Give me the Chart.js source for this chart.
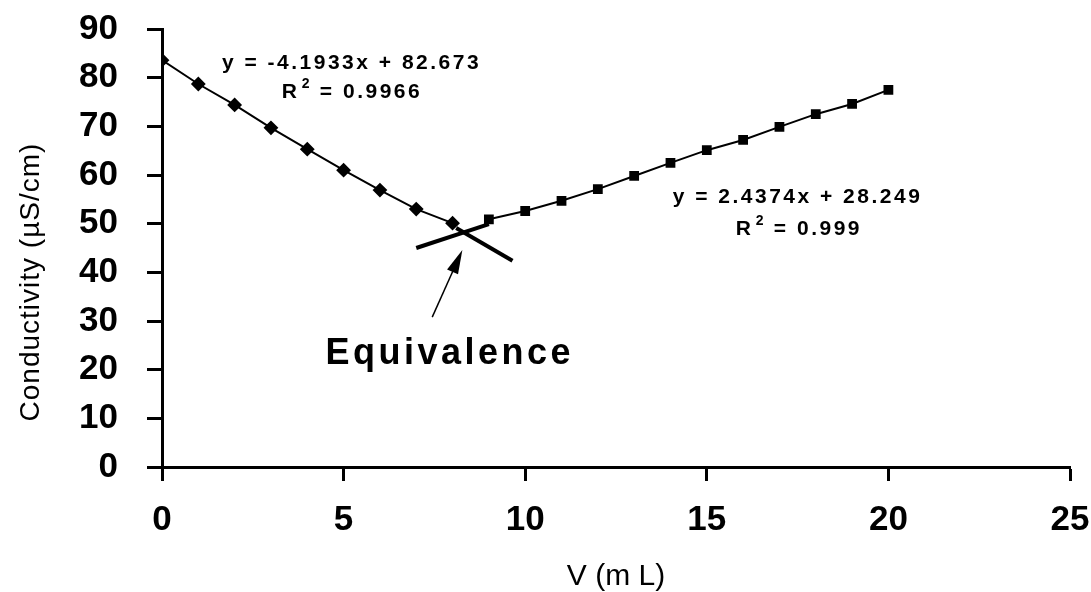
<!DOCTYPE html>
<html>
<head>
<meta charset="utf-8">
<script src="https://cdn.jsdelivr.net/npm/chart.js@4"></script>
<style>
  body { margin: 0; background: #fff; }
  #wrap { width: 1091px; height: 592px; }
</style>
</head>
<body>
<div id="wrap"><canvas id="chart"></canvas></div>
<script>
// Data
const volBefore = [0, 1, 2, 3, 4, 5, 6, 7, 8];
const condBefore = [83.6, 78.7, 74.4, 69.7, 65.3, 61.0, 56.9, 53.0, 50.1];
const volAfter = [9, 10, 11, 12, 13, 14, 15, 16, 17, 18, 19, 20];
const condAfter = [50.9, 52.6, 54.7, 57.1, 59.8, 62.5, 65.1, 67.2, 69.9, 72.5, 74.6, 77.5];

// Thick trendline pieces crossing at the equivalence point
const trendDownX = [8.1, 9.65];
const trendDownY = [49.1, 42.4];
const trendUpX = [7.0, 9.0];
const trendUpY = [45.0, 49.9];

const xTicks = [0, 5, 10, 15, 20, 25];
const yTicks = [0, 10, 20, 30, 40, 50, 60, 70, 80, 90];

const toPoints = (xs, ys) => xs.map((x, i) => ({ x, y: ys[i] }));

// Text labels and arrow, placed in data units
const labels = [
  { text: 'y = -4.1933x + 82.673', x: 1.65, y: 81.8 },
  { text: 'y = 2.4374x + 28.249', x: 14.06, y: 54.3 }
];
const rSquared = [
  { value: '= 0.9966', x: 3.3, y: 75.8 },
  { value: '= 0.999', x: 15.8, y: 47.7 }
];
const arrowFrom = { x: 7.44, y: 30.8 };
const arrowTo = { x: 8.27, y: 44.6 };
const equivLabel = { text: 'Equivalence', x: 4.5, y: 21.2 };
const yTitle = 'Conductivity (µS/cm)';

const annotations = {
  id: 'annotations',
  afterDatasetsDraw(chart) {
    const ctx = chart.ctx;
    const xs = chart.scales.x;
    const ys = chart.scales.y;
    const px = v => xs.getPixelForValue(v);
    const py = v => ys.getPixelForValue(v);
    ctx.save();
    ctx.fillStyle = '#000';
    ctx.strokeStyle = '#000';
    ctx.textBaseline = 'alphabetic';
    ctx.textAlign = 'left';

    labels.forEach(l => {
      ctx.font = 'bold 21px Arial, "Liberation Sans", sans-serif';
      ctx.letterSpacing = '2.5px';
      ctx.fillText(l.text, px(l.x), py(l.y));
    });

    rSquared.forEach(r => {
      const x0 = px(r.x);
      const y0 = py(r.y);
      ctx.font = 'bold 21px Arial, "Liberation Sans", sans-serif';
      ctx.letterSpacing = '2.5px';
      ctx.fillText('R', x0, y0);
      ctx.font = 'bold 14px Arial, "Liberation Sans", sans-serif';
      ctx.letterSpacing = '0px';
      ctx.fillText('2', x0 + 20, y0 - 10);
      ctx.font = 'bold 21px Arial, "Liberation Sans", sans-serif';
      ctx.letterSpacing = '2.5px';
      ctx.fillText(r.value, x0 + 38, y0);
    });

    // arrow
    const ax = px(arrowFrom.x), ay = py(arrowFrom.y);
    const bx = px(arrowTo.x), by = py(arrowTo.y);
    const ang = Math.atan2(by - ay, bx - ax);
    ctx.lineWidth = 1.5;
    ctx.beginPath();
    ctx.moveTo(ax, ay);
    ctx.lineTo(bx - 16 * Math.cos(ang), by - 16 * Math.sin(ang));
    ctx.stroke();
    ctx.beginPath();
    ctx.moveTo(bx, by);
    ctx.lineTo(bx - 24 * Math.cos(ang) + 6 * Math.sin(ang), by - 24 * Math.sin(ang) - 6 * Math.cos(ang));
    ctx.lineTo(bx - 24 * Math.cos(ang) - 6 * Math.sin(ang), by - 24 * Math.sin(ang) + 6 * Math.cos(ang));
    ctx.closePath();
    ctx.fill();

    ctx.font = 'bold 36px Arial, "Liberation Sans", sans-serif';
    ctx.letterSpacing = '3.5px';
    ctx.fillText(equivLabel.text, px(equivLabel.x), py(equivLabel.y));

    // y axis title, rotated
    ctx.translate(31, 282);
    ctx.rotate(-Math.PI / 2);
    ctx.textAlign = 'center';
    ctx.textBaseline = 'middle';
    ctx.font = '28px Arial, "Liberation Sans", sans-serif';
    ctx.letterSpacing = '1px';
    ctx.fillText(yTitle, 0, 0);
    ctx.restore();
  }
};

// keep label overhang from moving the plot area
const noPadding = s => { s.paddingTop = 0; s.paddingBottom = 0; s.paddingLeft = 0; s.paddingRight = 0; };

const tickFont = { family: 'Arial, "Liberation Sans", sans-serif', size: 35, weight: 'bold' };

new Chart(document.getElementById('chart'), {
  type: 'scatter',
  data: {
    datasets: [
      {
        data: toPoints(volBefore, condBefore),
        showLine: true,
        borderColor: '#000',
        borderWidth: 2,
        backgroundColor: '#000',
        pointStyle: 'rectRot',
        pointRadius: 6,
        tension: 0
      },
      {
        data: toPoints(volAfter, condAfter),
        showLine: true,
        borderColor: '#000',
        borderWidth: 2,
        backgroundColor: '#000',
        pointStyle: 'rect',
        pointRadius: 5.5,
        tension: 0
      },
      {
        data: toPoints(trendDownX, trendDownY),
        showLine: true,
        borderColor: '#000',
        borderWidth: 4,
        pointRadius: 0
      },
      {
        data: toPoints(trendUpX, trendUpY),
        showLine: true,
        borderColor: '#000',
        borderWidth: 4,
        pointRadius: 0
      }
    ]
  },
  options: {
    responsive: true,
    maintainAspectRatio: false,
    animation: false,
    layout: { padding: { top: 29, right: 21, left: 0, bottom: 0 } },
    plugins: { legend: { display: false }, tooltip: { enabled: false } },
    scales: {
      x: {
        type: 'linear',
        min: 0,
        max: 25,
        afterBuildTicks: s => { s.ticks = xTicks.map(v => ({ value: v })); },
        afterFit: s => { s.height = 125; noPadding(s); },
        grid: { drawOnChartArea: false, tickLength: 14, tickWidth: 3, color: '#000' },
        border: { width: 3, color: '#000' },
        ticks: { color: '#000', font: tickFont, padding: 18, maxRotation: 0, autoSkip: false },
        title: {
          display: true,
          text: 'V (m L)',
          color: '#000',
          font: { family: 'Arial, sans-serif', size: 30, lineHeight: 1 },
          padding: { top: 0, bottom: 0 }
        }
      },
      y: {
        type: 'linear',
        min: 0,
        max: 90,
        afterBuildTicks: s => { s.ticks = yTicks.map(v => ({ value: v })); },
        afterFit: s => { s.width = 162; noPadding(s); },
        grid: { drawOnChartArea: false, tickLength: 15, tickWidth: 3, color: '#000' },
        border: { width: 3, color: '#000' },
        ticks: { color: '#000', font: tickFont, padding: 29, autoSkip: false }
      }
    }
  },
  plugins: [annotations]
});
</script>
</body>
</html>
